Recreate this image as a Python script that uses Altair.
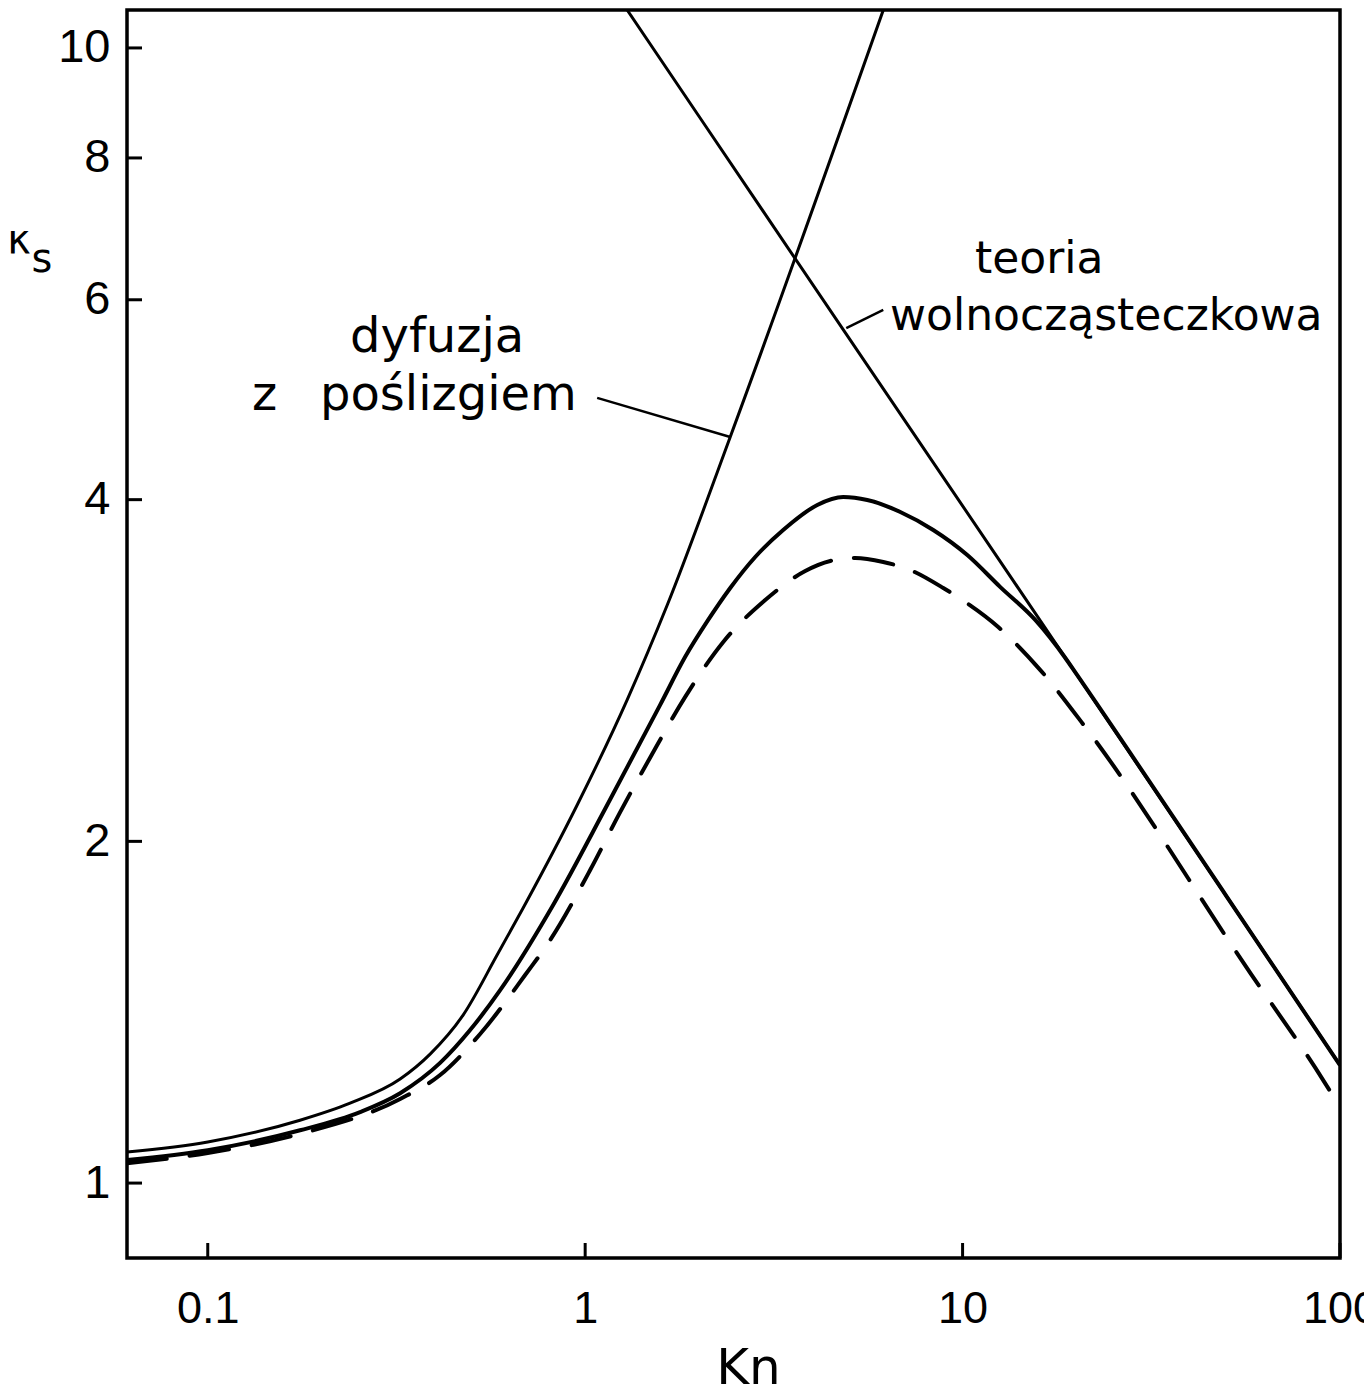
import altair as alt
import pandas as pd

# ---- axis ticks ----
x_ticks = [0.1, 1, 10, 100]
y_ticks = [1, 2, 4, 6, 8, 10]

# ---- free-molecular theory (straight line in log-log) ----
fm_kn = [1.292, 2, 5, 10, 20, 50, 100]
fm_k = [10.80, 8.71, 5.55, 3.95, 2.81, 1.79, 1.27]

# ---- slip diffusion ----
slip_kn = [0.0611, 0.1, 0.1756, 0.2383, 0.3234, 0.3883, 0.4749, 0.5843, 0.6849, 0.9524,
           1.292, 1.650, 2.423, 6.164]
slip_k = [1.065, 1.087, 1.136, 1.176, 1.235, 1.299, 1.406, 1.588, 1.747, 2.153,
          2.665, 3.230, 4.543, 10.80]

# ---- full solution (solid) ----
solid_kn = [0.0611, 0.1, 0.1756, 0.2533, 0.3234, 0.4127, 0.4956, 0.5953, 0.8226, 1.1438,
            1.5802, 1.841, 2.118, 2.423, 2.822, 3.347, 4.121, 4.829, 5.589, 6.838,
            8.361, 10.29, 12.59, 15.58, 18.72, 20, 50, 100]
solid_k = [1.048, 1.069, 1.113, 1.155, 1.200, 1.276, 1.364, 1.479, 1.758, 2.153,
           2.638, 2.908, 3.134, 3.344, 3.561, 3.761, 3.957, 4.021, 3.997, 3.901,
           3.761, 3.575, 3.350, 3.134, 2.901, 2.81, 1.79, 1.27]

# ---- approximate solution (dashed) ----
dash_kn = [0.0611, 0.1, 0.1756, 0.3234, 0.4127, 0.5268, 0.6933, 0.8078, 1.031, 1.238,
           1.505, 1.841, 2.322, 3.000, 3.829, 4.461, 5.196, 6.164, 7.268, 8.889,
           9.982, 12.43, 16.07, 21.14, 57.88, 86.06, 100]
dash_k = [1.041, 1.063, 1.105, 1.186, 1.245, 1.353, 1.525, 1.637, 1.887, 2.122,
          2.388, 2.681, 2.997, 3.263, 3.461, 3.532, 3.554, 3.525, 3.468, 3.344,
          3.263, 3.089, 2.831, 2.522, 1.531, 1.263, 1.167]

# ---- leader lines of the annotations ----
ptr_slip_kn = [1.076, 2.423]
ptr_slip_k = [4.917, 4.542]
ptr_fm_kn = [6.164, 4.918]
ptr_fm_k = [5.877, 5.666]

W, H = 1213, 1248
NUM_FONT = "Liberation Sans Narrow, Liberation Sans, sans-serif"

xs = alt.Scale(type="log", domain=[0.0611, 100], nice=False)
ys = alt.Scale(type="log", domain=[0.859, 10.8], nice=False)

x_axis = alt.Axis(values=x_ticks, format="~g", ticks=False, tickSize=0, domain=False, grid=False,
                  labelFont=NUM_FONT, labelFontSize=45, labelPadding=28,
                  labelColor="black", labelFlush=False, labelOverlap=False,
                  title="Kn", titleFont="DejaVu Sans", titleFontSize=50, titleFontWeight="normal",
                  titleColor="black", titleX=621, titleY=125, titleBaseline="alphabetic",
                  titleAlign="center")
y_axis = alt.Axis(values=y_ticks, format="~g", ticks=False, tickSize=0, domain=False, grid=False,
                  labelFont=NUM_FONT, labelFontSize=47, labelPadding=17,
                  labelColor="black", labelFlush=False, labelOverlap=False, title=None)

X = alt.X("Kn:Q", scale=xs, axis=x_axis)
Y = alt.Y("K:Q", scale=ys, axis=y_axis)


def df(kn, k):
    return pd.DataFrame({"Kn": kn, "K": k})


fm = alt.Chart(df(fm_kn, fm_k)).mark_line(color="black", strokeWidth=3, clip=True).encode(x=X, y=Y)
slip = alt.Chart(df(slip_kn, slip_k)).mark_line(
    color="black", strokeWidth=3, interpolate="monotone", clip=True).encode(x=X, y=Y)
solid = alt.Chart(df(solid_kn, solid_k)).mark_line(
    color="black", strokeWidth=4, interpolate="monotone", clip=True).encode(x=X, y=Y)
dashed = alt.Chart(df(dash_kn, dash_k)).mark_line(
    color="black", strokeWidth=4, interpolate="monotone", strokeDash=[40, 23],
    strokeCap="round", clip=True).encode(x=X, y=Y)

ptr1 = alt.Chart(df(ptr_slip_kn, ptr_slip_k)).mark_line(color="black", strokeWidth=2.5).encode(x=X, y=Y)
ptr2 = alt.Chart(df(ptr_fm_kn, ptr_fm_k)).mark_line(color="black", strokeWidth=2.5).encode(x=X, y=Y)

xt = alt.Chart(pd.DataFrame({"Kn": x_ticks})).mark_rule(color="black", strokeWidth=3).encode(
    x=X, y=alt.value(H), y2=alt.value(H - 15))
yt = alt.Chart(pd.DataFrame({"K": y_ticks})).mark_rule(color="black", strokeWidth=3).encode(
    y=Y, x=alt.value(0), x2=alt.value(15))


def label(txt, x, y, size=44, align="left"):
    return alt.Chart(pd.DataFrame({"t": [txt]})).mark_text(
        font="DejaVu Sans", fontSize=size, align=align, baseline="alphabetic", color="black"
    ).encode(text="t:N", x=alt.value(x), y=alt.value(y))


texts = [
    label("dyfuzja", 223, 342, size=48),
    label("z", 125, 400, size=48),
    label("poślizgiem", 193, 400, size=48),
    label("teoria", 848, 263),
    label("wolnocząsteczkowa", 763, 320),
    label("κ", -108, 243, size=40, align="center"),
    label("s", -85, 262, size=40, align="center"),
]

chart = alt.layer(fm, slip, solid, dashed, ptr1, ptr2, xt, yt, *texts).properties(
    width=W, height=H,
    autosize=alt.AutoSizeParams(type="none"),
    padding={"left": 119, "top": 2, "right": 24, "bottom": 130},
    background="white",
).configure_view(stroke="black", strokeWidth=3.5)

chart.save("out.html", embed_options={"renderer": "svg", "actions": False})
